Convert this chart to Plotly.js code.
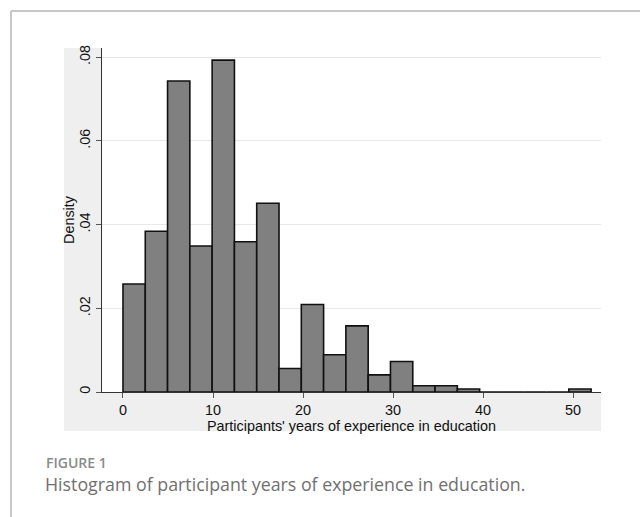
<!DOCTYPE html>
<html>
<head>
<meta charset="utf-8">
<script src="https://cdn.plot.ly/plotly-3.0.1.min.js"></script>
<style>
html,body{margin:0;padding:0;background:#fff;}
#chart{width:640px;height:517px;}
</style>
</head>
<body>
<div id="chart"></div>
<script>
// ---- data ----
const binStart = 0;
const binEnd = 52;
const binCount = 21;
const densities = [0.0258, 0.0384, 0.0743, 0.0349, 0.0793, 0.0359, 0.0451,
                   0.0056, 0.0209, 0.0089, 0.0158, 0.0041, 0.0073, 0.0015,
                   0.0015, 0.0007, 0, 0, 0, 0, 0.0007];
const xTickVals = [0, 10, 20, 30, 40, 50];
const xTickText = ["0", "10", "20", "30", "40", "50"];
const yTickVals = [0, 0.02, 0.04, 0.06, 0.08];
const yTickText = ["0", ".02", ".04", ".06", ".08"];
const xTitle = "Participants' years of experience in education";
const yTitle = "Density";
const figLabel = "FIGURE 1";
const figCaption = "Histogram of participant years of experience in education.";

// ---- build ----
const binWidth = (binEnd - binStart) / binCount;
const centers = densities.map((d, i) => binStart + (i + 0.5) * binWidth);

// plot area in pixels
const L = 102, R = 601, T = 48, B = 392;
const W = R - L, H = B - T;
const px = x => (x - L) / W;
const py = y => (B - y) / H;

const trace = {
  type: 'bar',
  x: centers,
  y: densities,
  width: binWidth,
  marker: {color: '#808080', line: {color: '#111111', width: 1.6}},
  hoverinfo: 'x+y'
};

const grayFill = '#efefef';
const axisFont = {family: '"Liberation Sans", Arial, sans-serif', size: 14.4, color: '#111'};
const layout = {
  width: 640, height: 517,
  margin: {l: L, r: 640 - R, t: T, b: 517 - B, pad: 0},
  paper_bgcolor: '#ffffff',
  plot_bgcolor: '#ffffff',
  showlegend: false,
  bargap: 0,
  font: axisFont,
  xaxis: {
    range: [-2.33, 53.1],
    tickvals: xTickVals, ticktext: xTickText,
    showgrid: false, zeroline: false,
    showline: true, linecolor: '#333', linewidth: 1,
    ticks: 'outside', ticklen: 5, tickcolor: '#555', tickwidth: 1,
    tickfont: axisFont,
    title: {text: xTitle, font: axisFont, standoff: 0}
  },
  yaxis: {
    range: [0, 0.0822],
    tickvals: yTickVals, ticktext: yTickText,
    tickangle: -90,
    showgrid: true, gridcolor: '#e8e8e8', gridwidth: 1,
    zeroline: false,
    showline: true, linecolor: '#333', linewidth: 1,
    ticks: 'outside', ticklen: 5, tickcolor: '#555', tickwidth: 1,
    tickfont: axisFont
  },
  shapes: [
    // graph-region gray strips (left and bottom of plot area)
    {type: 'rect', xref: 'paper', yref: 'paper', layer: 'below',
     x0: px(64), x1: 0, y0: py(431), y1: 1, fillcolor: grayFill, line: {width: 0}},
    {type: 'rect', xref: 'paper', yref: 'paper', layer: 'below',
     x0: 0, x1: 1, y0: py(431), y1: 0, fillcolor: grayFill, line: {width: 0}},
    // card border
    {type: 'line', xref: 'paper', yref: 'paper',
     x0: px(11), x1: px(640), y0: py(11), y1: py(11), line: {color: '#b5b5b5', width: 1.5}},
    {type: 'line', xref: 'paper', yref: 'paper',
     x0: px(11), x1: px(11), y0: py(11), y1: py(517), line: {color: '#b5b5b5', width: 1.5}}
  ],
  annotations: [
    {xref: 'paper', yref: 'paper', x: px(69), y: py(220), xanchor: 'center', yanchor: 'middle',
     textangle: -90, showarrow: false, text: yTitle, font: axisFont},
    {xref: 'paper', yref: 'paper', x: px(44), y: py(462), xanchor: 'left', yanchor: 'middle',
     showarrow: false, text: figLabel,
     font: {family: '"Open Sans", "Noto Sans", sans-serif', size: 14, color: '#8a8a8a', weight: 600}},
    {xref: 'paper', yref: 'paper', x: px(43), y: py(484), xanchor: 'left', yanchor: 'middle',
     showarrow: false, text: figCaption,
     font: {family: '"Open Sans", "Noto Sans", sans-serif', size: 17.8, color: '#707070'}}
  ]
};

Plotly.newPlot('chart', [trace], layout, {displayModeBar: false, staticPlot: true});
</script>
</body>
</html>
